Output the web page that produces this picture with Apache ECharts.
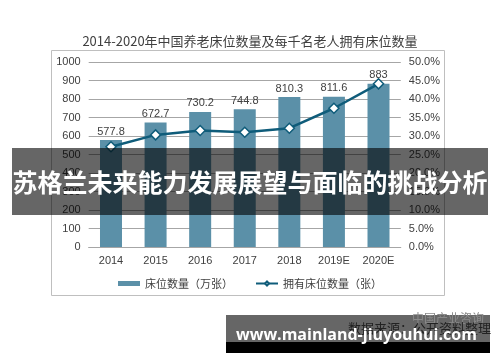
<!DOCTYPE html>
<html>
<head>
<meta charset="utf-8">
<script src="https://cdn.jsdelivr.net/npm/echarts@6/dist/echarts.min.js"></script>
<style>html,body{margin:0;padding:0;background:#fff}#c{width:500px;height:362px}</style>
</head>
<body>
<div id="c"></div>
<script>
const categories = ['2014', '2015', '2016', '2017', '2018', '2019E', '2020E'];
const bedCounts = [577.8, 672.7, 730.2, 744.8, 810.3, 811.6, 883];
const bedsPerThousand = [27.1, 30.3, 31.5, 31.0, 32.1, 37.5, 44.1];
const leftTicks = { min: 0, max: 1000, interval: 100 };
const rightTicks = { min: 0, max: 50, interval: 5 };
const titleText = '2014-2020年中国养老床位数量及每千名老人拥有床位数量';
const seriesNames = ['床位数量（万张）', '拥有床位数量（张）'];
const bannerText = '苏格兰未来能力发展展望与面临的挑战分析';
const sourceText = '数据来源：公开资料整理';
const logoText = '中国产业咨询';
const urlText = 'www.mainland-jiuyouhui.com';

const chart = echarts.init(document.getElementById('c'), null, { renderer: 'canvas' });
const font = '"Liberation Sans", Arial, sans-serif';
const cjk = '"Noto Sans CJK SC", sans-serif';
chart.setOption({
  animation: false,
  backgroundColor: '#fff',
  title: {
    text: titleText, left: 'center', top: 30,
    textStyle: { fontSize: 13, fontWeight: 'normal', color: '#404040', fontFamily: cjk }
  },
  legend: {
    top: 273, left: 'center', itemWidth: 22, itemHeight: 5, itemGap: 22,
    textStyle: { fontSize: 11, color: '#404040', fontFamily: cjk },
    data: [{ name: seriesNames[0], icon: 'rect' }, { name: seriesNames[1] }]
  },
  grid: { left: 88.7, right: 99.2, top: 62, bottom: 115, containLabel: false },
  xAxis: {
    type: 'category', data: categories,
    axisLine: { lineStyle: { color: '#a6a6a6' } },
    axisTick: { show: false },
    axisLabel: { fontSize: 11, color: '#404040', fontFamily: font, margin: 8 }
  },
  yAxis: [
    {
      type: 'value', min: leftTicks.min, max: leftTicks.max, interval: leftTicks.interval,
      axisLine: { show: false }, axisTick: { show: false },
      axisLabel: { fontSize: 11, color: '#404040', fontFamily: font, margin: 8,
        formatter: v => String(v) },
      splitLine: { lineStyle: { color: '#a6a6a6', width: 1 } }
    },
    {
      type: 'value', min: rightTicks.min, max: rightTicks.max, interval: rightTicks.interval,
      axisLine: { show: false }, axisTick: { show: false },
      axisLabel: { fontSize: 11, color: '#404040', fontFamily: font, margin: 8,
        formatter: v => v.toFixed(1) + '%' },
      splitLine: { show: false }
    }
  ],
  series: [
    {
      name: seriesNames[0], type: 'bar', data: bedCounts, barWidth: 22,
      itemStyle: { color: '#5b90a8' },
      label: { show: true, position: 'top', distance: 3, fontSize: 11, color: '#404040', fontFamily: font }
    },
    {
      name: seriesNames[1], type: 'line', yAxisIndex: 1, data: bedsPerThousand,
      symbol: 'diamond', symbolSize: 10, showAllSymbol: true,
      lineStyle: { color: '#0f5c7a', width: 2.5 },
      itemStyle: { color: '#fff', borderColor: '#0f5c7a', borderWidth: 1.5 }
    }
  ],
  graphic: [
    { type: 'rect', shape: { x: 51.5, y: 50.5, width: 393, height: 245 }, style: { fill: 'none', stroke: '#bfbfbf', lineWidth: 1 }, z: 0 },
    { type: 'rect', shape: { x: 12, y: 148, width: 476, height: 67 }, style: { fill: 'rgba(0,0,0,0.6)' }, z: 100 },
    { type: 'text', x: 250, y: 182, style: { text: bannerText, fill: '#fff', font: 'bold 25px "Noto Sans CJK SC", sans-serif', textAlign: 'center', textVerticalAlign: 'middle' }, z: 101 },
    { type: 'rect', shape: { x: 226, y: 315, width: 264, height: 27 }, style: { fill: 'rgba(0,0,0,0.6)' }, z: 100 },
    { type: 'rect', shape: { x: 226, y: 342, width: 264, height: 11 }, style: { fill: '#000' }, z: 100 },
    { type: 'text', x: 412, y: 318, style: { text: logoText, fill: '#8a8a8a', font: '12px "Noto Sans CJK SC", sans-serif', textAlign: 'left', textVerticalAlign: 'middle' }, z: 101 },
    { type: 'text', x: 348, y: 328, style: { text: sourceText, fill: '#222', font: '13px "Noto Sans CJK SC", sans-serif', textAlign: 'left', textVerticalAlign: 'middle' }, z: 101 },
    { type: 'text', x: 236, y: 335, style: { text: urlText, fill: '#fff', font: 'bold 16px "Open Sans", sans-serif', textAlign: 'left', textVerticalAlign: 'middle' }, z: 102 }
  ]
});
</script>
</body>
</html>
